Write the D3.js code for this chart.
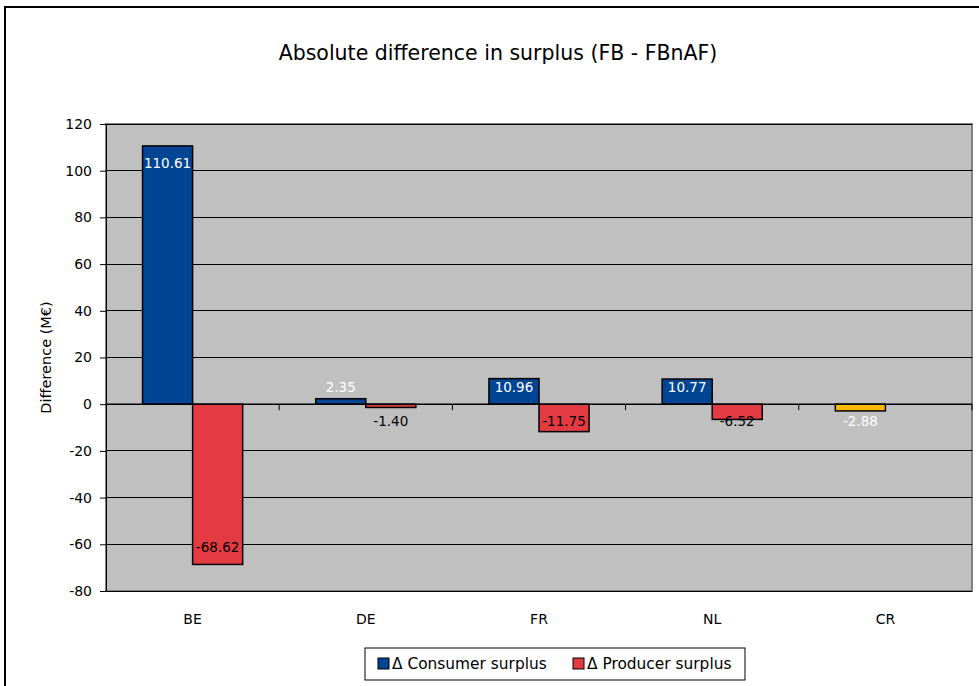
<!DOCTYPE html>
<html><head><meta charset="utf-8">
<script src="https://cdn.jsdelivr.net/npm/d3@7"></script>
<style>
body{margin:0;background:#fff;}
text{font-family:"DejaVu Sans",sans-serif;}
</style></head>
<body><svg id="c" width="979" height="686"></svg>
<script>
const categories = ["BE","DE","FR","NL","CR"];
const consumer = [110.61, 2.35, 10.96, 10.77, -2.88];
const producer = [-68.62, -1.40, -11.75, -6.52, null];
const yTicks = [-80,-60,-40,-20,0,20,40,60,80,100,120];
const seriesNames = ["\u0394 Consumer surplus","\u0394 Producer surplus"];
const colors = ["#004494","#e33b41"];
const crColor = "#ffb900";

const svg = d3.select("#c");
// outer border
svg.append("rect").attr("x",5).attr("y",7).attr("width",980).attr("height",690)
  .attr("fill","#fff").attr("stroke","#000").attr("stroke-width",2);

const L=106, R=972, T=124, B=591;
const y = d3.scaleLinear().domain([-80,120]).range([B,T]);
const x = d3.scaleBand().domain(categories).range([L,R]).paddingInner(0).paddingOuter(0);
const inner = d3.scaleBand().domain([0,1]).range([0,x.bandwidth()]).paddingInner(0).paddingOuter(0.73);

svg.append("rect").attr("x",L).attr("y",T).attr("width",R-L).attr("height",B-T)
  .attr("fill","#c0c0c0").attr("stroke","#808080").attr("stroke-width",2);

// gridlines
svg.append("g").selectAll("line").data(yTicks).join("line")
  .attr("x1",L).attr("x2",R).attr("y1",d=>y(d)).attr("y2",d=>y(d))
  .attr("stroke","#000").attr("stroke-width",1).attr("shape-rendering","crispEdges");

// y axis
const ya = svg.append("g").attr("transform",`translate(${L},0)`)
  .call(d3.axisLeft(y).tickValues(yTicks).tickSize(6).tickPadding(8).tickFormat(d=>String(d)));
ya.select(".domain").attr("stroke","#000");
ya.selectAll("text").attr("font-size",14).attr("fill","#000").attr("font-family","DejaVu Sans");

// bars
const data = [];
categories.forEach((c,i)=>{
  data.push({c, s:0, v:consumer[i], col: c==="CR"?crColor:colors[0], lab:"#fff"});
  if(producer[i]!==null) data.push({c, s:1, v:producer[i], col: colors[1], lab:"#000"});
});
const bw = inner.bandwidth();
svg.append("g").selectAll("rect").data(data).join("rect")
  .attr("x",d=>x(d.c)+inner(d.s))
  .attr("width",bw)
  .attr("y",d=>Math.min(y(d.v),y(0)))
  .attr("height",d=>Math.abs(y(d.v)-y(0)))
  .attr("fill",d=>d.col).attr("stroke","#000").attr("stroke-width",1.5);

// x axis at zero
const xa = svg.append("g").attr("transform",`translate(0,${y(0)})`);
xa.append("line").attr("x1",L).attr("x2",R).attr("stroke","#000").attr("stroke-width",1.5);
xa.selectAll("line.t").data(categories.slice(1).concat(["_end"])).join("line").attr("class","t")
  .attr("x1",(d,i)=>L+(i+1)*x.bandwidth()).attr("x2",(d,i)=>L+(i+1)*x.bandwidth())
  .attr("y1",0).attr("y2",6).attr("stroke","#000");

// category labels
svg.append("g").selectAll("text").data(categories).join("text")
  .attr("x",d=>x(d)+x.bandwidth()/2).attr("y",624)
  .attr("text-anchor","middle").attr("font-size",14).text(d=>d);

// value labels
svg.append("g").selectAll("text").data(data).join("text")
  .attr("x",d=>x(d.c)+inner(d.s)+bw/2)
  .attr("y",d=> d.v>=0 ? Math.min(y(d.v)+17, y(0)-17) : Math.max(y(d.v)-17, y(0)+17))
  .attr("dy","0.36em").attr("text-anchor","middle").attr("font-size",13.5)
  .attr("fill",d=>d.lab).text(d=>d.v.toFixed(2));

// title
svg.append("text").attr("x",498).attr("y",60).attr("text-anchor","middle")
  .attr("font-size",20.5).text("Absolute difference in surplus (FB - FBnAF)");

// y axis title
svg.append("text").attr("transform",`translate(51,${(T+B)/2}) rotate(-90)`)
  .attr("text-anchor","middle").attr("font-size",14.5).text("Difference (M\u20ac)");

// legend
const lg = svg.append("g");
lg.append("rect").attr("x",365).attr("y",648).attr("width",380).attr("height",32)
  .attr("fill","#fff").attr("stroke","#000").attr("stroke-width",1);
const lx = [378, 573];
seriesNames.forEach((n,i)=>{
  lg.append("rect").attr("x",lx[i]).attr("y",658).attr("width",11).attr("height",11)
    .attr("fill",colors[i]).attr("stroke","#000").attr("stroke-width",1);
  lg.append("text").attr("x",lx[i]+14).attr("y",669).attr("font-size",15.4).text(n);
});
</script></body></html>
